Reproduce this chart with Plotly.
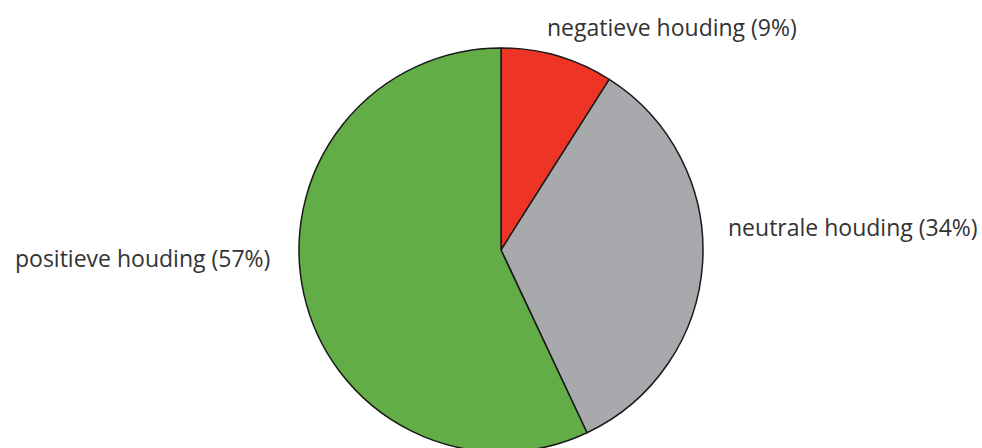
import plotly.graph_objects as go

labels = ["negatieve houding", "neutrale houding", "positieve houding"]
values = [9, 34, 57]
colors = ["#EE3424", "#A7A9AC", "#62AD46"]

W, H = 982, 460  # slightly taller than the window so the pie bottom is cropped as in the reference
cx, cy, r = 501, 250, 202  # pixel geometry of pie (from top-left of figure)

fig = go.Figure(go.Pie(
    labels=labels,
    values=values,
    sort=False,
    direction="clockwise",
    rotation=0,
    marker=dict(colors=colors, line=dict(color="#1a1a1a", width=1.5)),
    textinfo="none",
    hoverinfo="label+percent",
    showlegend=False,
    domain=dict(x=[(cx - r) / W, (cx + r) / W], y=[(H - cy - r) / H, (H - cy + r) / H]),
))

# label placement (pixels in reference, converted to paper coords)
label_pos = [
    (545, 27, "left"),
    (726, 227, "left"),
    (272, 258, "right"),
]
for lab, val, (px, py, anc) in zip(labels, values, label_pos):
    fig.add_annotation(
        x=px / W, y=1 - py / H, xref="paper", yref="paper",
        text=f"{lab} ({val}%)", showarrow=False,
        xanchor=anc, yanchor="middle",
        font=dict(family="Open Sans", size=23, color="#333333"),
    )

fig.update_layout(
    width=W, height=H,
    margin=dict(l=0, r=0, t=0, b=0),
    paper_bgcolor="white",
    plot_bgcolor="white",
)

fig.write_html(
    "out.html",
    config={"displayModeBar": False},
    post_script="document.body.style.margin='0';document.body.style.overflow='hidden';",
)
